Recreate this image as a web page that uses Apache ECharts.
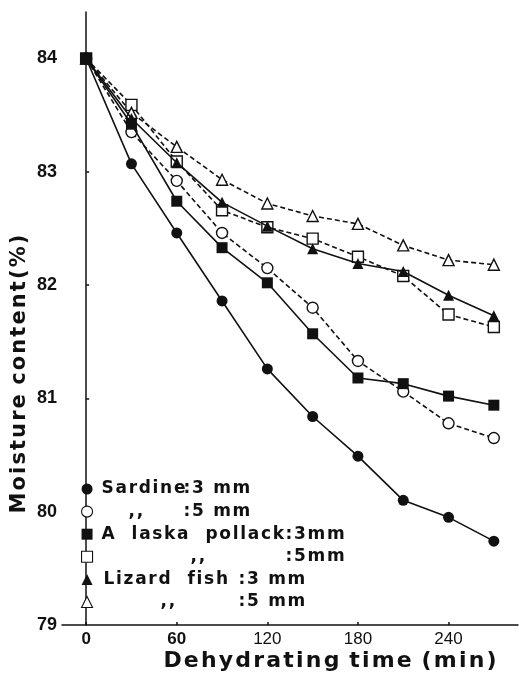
<!DOCTYPE html>
<html>
<head>
<meta charset="utf-8">
<script src="https://cdn.jsdelivr.net/npm/echarts@6/dist/echarts.min.js"></script>
<style>
  html, body { margin: 0; padding: 0; background: #fff; }
  #chart { width: 519px; height: 675px; }
</style>
</head>
<body>
<div id="chart"></div>
<script>
// dehydrating time (min)
const times = [0, 30, 60, 90, 120, 150, 180, 210, 240, 270];

// moisture content (%)
const sardine3 = [84.0, 83.07, 82.46, 81.86, 81.26, 80.84, 80.49, 80.10, 79.95, 79.74];
const sardine5 = [84.0, 83.35, 82.92, 82.46, 82.15, 81.80, 81.33, 81.06, 80.78, 80.65];
const pollack3 = [84.0, 83.42, 82.74, 82.33, 82.02, 81.57, 81.18, 81.13, 81.02, 80.94];
const pollack5 = [84.0, 83.59, 83.09, 82.66, 82.51, 82.41, 82.25, 82.08, 81.74, 81.63];
const lizard3 = [84.0, 83.47, 83.08, 82.73, 82.52, 82.32, 82.19, 82.12, 81.91, 81.73];
const lizard5 = [84.0, 83.52, 83.22, 82.93, 82.72, 82.61, 82.54, 82.35, 82.22, 82.18];

const seriesNames = ['Sardine 3mm', 'Sardine 5mm', 'Alaska pollack 3mm', 'Alaska pollack 5mm', 'Lizard fish 3mm', 'Lizard fish 5mm'];
const legendFish = ['Sardine', ',,', 'A  laska  pollack', ',,', 'Lizard  fish ', ',,'];
const legendSize = ['3 mm', '5 mm', '3mm', '5mm', '3 mm', '5 mm'];

const xTicks = [0, 60, 120, 180, 240];
const yTicks = [79, 80, 81, 82, 83, 84];

const INK = '#111';
// poor man's letter spacing
const sp = s => s.split('').join('\u200a');

const chart = echarts.init(document.getElementById('chart'));

const makeSeries = (name, data, symbol, filled, dashed) => ({
  name,
  type: 'line',
  data: times.map((t, i) => [t, data[i]]),
  symbol,
  symbolSize: 11,
  itemStyle: { color: filled ? INK : '#fff', borderColor: INK, borderWidth: filled ? 0 : 1.4 },
  lineStyle: { color: INK, width: 1.6, type: dashed ? [5, 3] : 'solid' },
  emphasis: { disabled: true },
  z: filled ? 3 : 2
});

const legendFont = { fontFamily: 'DejaVu Sans', fontWeight: 'bold', fontSize: 17, lineHeight: 20, color: INK };

chart.setOption({
  animation: false,
  backgroundColor: '#fff',
  grid: { left: 62, right: 1, top: 12, bottom: 50 },
  xAxis: {
    type: 'value',
    min: -16,
    max: 286,
    axisLine: { lineStyle: { color: INK, width: 1.5 } },
    axisTick: { customValues: xTicks, inside: true, length: 3, lineStyle: { color: INK, width: 1.5 } },
    axisLabel: {
      customValues: xTicks,
      margin: 6,
      formatter: v => (v <= 60 ? '{b|' + v + '}' : '{n|' + v + '}'),
      rich: {
        b: { fontFamily: 'Liberation Sans', fontWeight: 'bold', fontSize: 17, color: INK },
        n: { fontFamily: 'Liberation Sans', fontWeight: 'normal', fontSize: 17, color: INK }
      }
    },
    splitLine: { show: false }
  },
  yAxis: {
    type: 'value',
    min: 79,
    max: 84.41,
    axisLine: { show: true, lineStyle: { color: INK, width: 1.5 } },
    axisTick: { show: true, customValues: [80, 81, 82, 83, 84], inside: true, length: 3, lineStyle: { color: INK, width: 1.5 } },
    axisLabel: {
      customValues: yTicks,
      margin: 5,
      fontFamily: 'Liberation Sans',
      fontWeight: 'bold',
      fontSize: 18,
      color: INK
    },
    splitLine: { show: false }
  },
  legend: {
    orient: 'vertical',
    left: 81,
    top: 479,
    padding: 0,
    itemGap: 2.6,
    itemWidth: 11,
    itemHeight: 11,
    selectedMode: false,
    data: seriesNames.map((name, i) => ({
      name,
      icon: ['circle', 'circle', 'rect', 'rect', 'triangle', 'triangle'][i],
      itemStyle: i % 2 === 0
        ? { color: INK, borderWidth: 0 }
        : { color: '#fff', borderColor: INK, borderWidth: 1.1 }
    })),
    formatter: name => {
      const i = seriesNames.indexOf(name);
      return '{n' + (i + 1) + '|' + sp(legendFish[i]) + '}{u|:\u200a' + sp(legendSize[i]) + '}';
    },
    textStyle: {
      ...legendFont,
      rich: {
        n1: { ...legendFont, width: 82, padding: [0, 0, 0, 4] },
        n2: { ...legendFont, width: 55, padding: [0, 0, 0, 31] },
        n3: { ...legendFont, width: 184, padding: [0, 0, 0, 4] },
        n4: { ...legendFont, width: 95, padding: [0, 0, 0, 93] },
        n5: { ...legendFont, width: 135, padding: [0, 0, 0, 6] },
        n6: { ...legendFont, width: 78, padding: [0, 0, 0, 63] },
        u: { ...legendFont }
      }
    }
  },
  graphic: [
    {
      type: 'text',
      x: 20,
      y: 374,
      rotation: Math.PI / 2,
      style: {
        text: sp('Moisture') + ' \u200a' + sp('content') + '\u200a' + sp('(%)'),
        fontFamily: 'DejaVu Sans',
        fontWeight: 'bold',
        fontSize: 21,
        fill: INK,
        align: 'center',
        verticalAlign: 'middle'
      }
    },
    {
      type: 'text',
      x: 330,
      y: 661,
      style: {
        text: sp('Dehydrating') + ' \u200a' + sp('time') + ' \u200a' + sp('(min)'),
        fontFamily: 'DejaVu Sans',
        fontWeight: 'bold',
        fontSize: 22,
        fill: INK,
        align: 'center',
        verticalAlign: 'middle'
      }
    }
  ],
  series: [
    makeSeries(seriesNames[0], sardine3, 'circle', true, false),
    makeSeries(seriesNames[1], sardine5, 'circle', false, true),
    makeSeries(seriesNames[2], pollack3, 'rect', true, false),
    makeSeries(seriesNames[3], pollack5, 'rect', false, true),
    makeSeries(seriesNames[4], lizard3, 'triangle', true, false),
    makeSeries(seriesNames[5], lizard5, 'triangle', false, true)
  ]
});
</script>
</body>
</html>
